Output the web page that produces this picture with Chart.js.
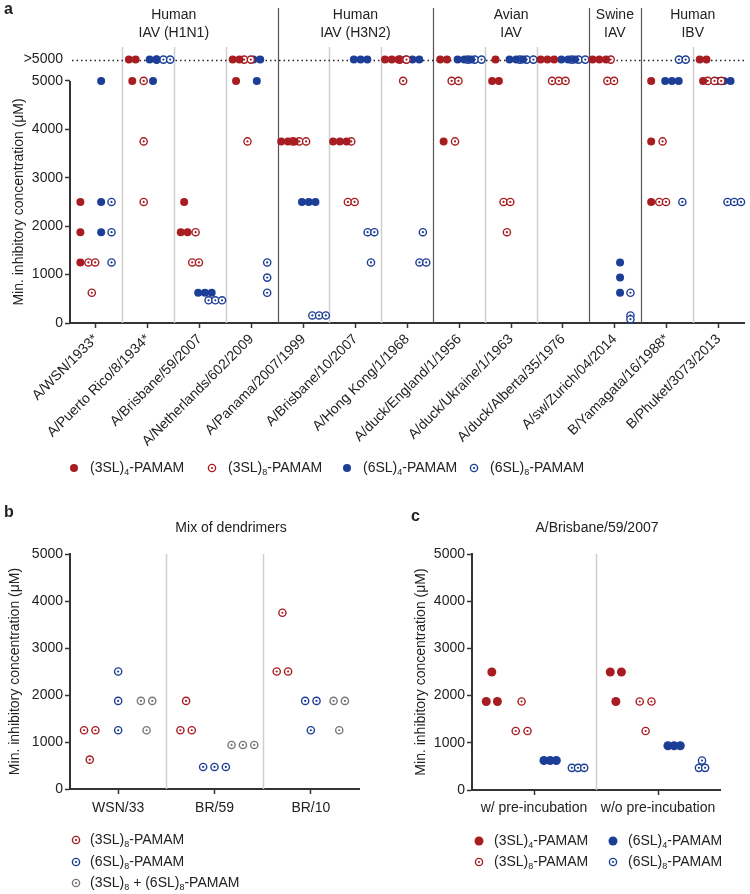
<!DOCTYPE html>
<html>
<head>
<meta charset="utf-8">
<script src="https://cdn.jsdelivr.net/npm/chart.js@4.4.1/dist/chart.umd.min.js"></script>
<style>
body { margin: 0; background: #fff; }
#wrap { position: relative; width: 750px; height: 894px; overflow: hidden; }
canvas { position: absolute; }
</style>
</head>
<body>
<div id="wrap">
  <canvas id="chartA" width="750" height="500" style="left:0;top:0"></canvas>
  <canvas id="chartB" width="375" height="394" style="left:0;top:500px"></canvas>
  <canvas id="chartC" width="375" height="394" style="left:375px;top:500px"></canvas>
</div>
<script>
// ---- data ----
var GT = '>5000';
var strains = ['A/WSN/1933*', 'A/Puerto Rico/8/1934*', 'A/Brisbane/59/2007', 'A/Netherlands/602/2009',
  'A/Panama/2007/1999', 'A/Brisbane/10/2007', 'A/Hong Kong/1/1968', 'A/duck/England/1/1956',
  'A/duck/Ukraine/1/1963', 'A/duck/Alberta/35/1976', 'A/sw/Zurich/04/2014', 'B/Yamagata/16/1988*',
  'B/Phuket/3073/2013'];
var groupNames = [['Human', 'IAV (H1N1)'], ['Human', 'IAV (H3N2)'], ['Avian', 'IAV'], ['Swine', 'IAV'], ['Human', 'IBV']];
var groupSizes = [4, 3, 3, 1, 2];
var yTicks = [0, 1000, 2000, 3000, 4000, 5000];

// panel a, three replicates per strain
var sl3x4 = [[2500, 1875, 1250], [GT, GT, 5000], [2500, 1875, 1875], [GT, GT, 5000], [3750, 3750, 3750],
  [3750, 3750, 3750], [GT, GT, GT], [GT, GT, 3750], [GT, 5000, 5000], [GT, GT, GT], [GT, GT, GT],
  [5000, 3750, 2500], [GT, GT, 5000]];
var sl3x8 = [[1250, 1250, 625], [5000, 3750, 2500], [1875, 1250, 1250], [GT, GT, 3750], [3750, 3750, 3750],
  [3750, 2500, 2500], [GT, GT, 5000], [5000, 5000, 3750], [2500, 2500, 1875], [5000, 5000, 5000],
  [GT, 5000, 5000], [3750, 2500, 2500], [5000, 5000, 5000]];
var sl6x4 = [[5000, 2500, 1875], [GT, GT, 5000], [625, 625, 625], [GT, GT, 5000], [2500, 2500, 2500],
  [GT, GT, GT], [GT, GT, GT], [GT, GT, GT], [GT, GT, GT], [GT, GT, GT], [1250, 937.5, 625],
  [5000, 5000, 5000], [5000, 5000, 5000]];
var sl6x8 = [[2500, 1875, 1250], [GT, GT, GT], [469, 469, 469], [1250, 937.5, 625], [156, 156, 156],
  [1875, 1875, 1250], [1875, 1250, 1250], [GT, GT, GT], [GT, GT, GT], [GT, GT, GT], [625, 156, 78],
  [GT, GT, 2500], [2500, 2500, 2500]];

// panel b
var mixViruses = ['WSN/33', 'BR/59', 'BR/10'];
var mix3SL8 = [[1250, 1250, 625], [1875, 1250, 1250], [3750, 2500, 2500]];
var mix6SL8 = [[2500, 1875, 1250], [469, 469, 469], [1875, 1875, 1250]];
var mixBoth = [[1875, 1875, 1250], [937.5, 937.5, 937.5], [1875, 1875, 1250]];

// panel c
var preConditions = ['w/ pre-incubation', 'w/o pre-incubation'];
var pre3SL4 = [[2500, 1875, 1875], [2500, 2500, 1875]];
var pre3SL8 = [[1875, 1250, 1250], [1875, 1875, 1250]];
var pre6SL4 = [[625, 625, 625], [937.5, 937.5, 937.5]];
var pre6SL8 = [[469, 469, 469], [625, 469, 469]];

// legend names, odd parts are subscripts
var seriesNames = [['(3SL)', '4', '-PAMAM'], ['(3SL)', '8', '-PAMAM'], ['(6SL)', '4', '-PAMAM'], ['(6SL)', '8', '-PAMAM']];
var mixNames = [['(3SL)', '8', '-PAMAM'], ['(6SL)', '8', '-PAMAM'], ['(3SL)', '8', ' + (6SL)', '8', '-PAMAM']];

// ---- style ----
var FONT = '"Liberation Sans", Arial, Helvetica, sans-serif';
var RED = '#a71d21', BLUE = '#1c3e96', GREY = '#777777';
var OVER = 5440; // where the ">5000" row sits on the y scale

Chart.defaults.font.family = FONT;
Chart.defaults.font.size = 14;
Chart.defaults.color = '#222';

// same values in one column are put side by side
function swarm(rows, offset, step) {
  var pts = [];
  rows.forEach(function (vals, i) {
    var seen = [], counts = [];
    vals.forEach(function (v) {
      var k = seen.indexOf(v);
      if (k < 0) { seen.push(v); counts.push(1); } else counts[k]++;
    });
    seen.forEach(function (v, k) {
      var n = counts[k];
      for (var j = 0; j < n; j++) {
        pts.push({ x: i + offset + (j - (n - 1) / 2) * step, y: v === GT ? OVER : v });
      }
    });
  });
  return pts;
}

// solid dot -> one dataset, ring with centre dot -> two datasets.
// chart.js paints the first dataset last, so the centre dots go first
function series(name, rows, offset, step, color, ring, radius) {
  if (!ring) {
    return [{ label: name.join(''), data: swarm(rows, offset, step), pointStyle: 'circle', showLine: false,
      clip: false, pointRadius: radius || 4, backgroundColor: color, borderWidth: 0 }];
  }
  return [
    { label: name.join('') + ' centre', data: swarm(rows, offset, step), pointStyle: 'circle',
      showLine: false, clip: false, pointRadius: 1.1, backgroundColor: color, borderWidth: 0 },
    { label: name.join(''), data: swarm(rows, offset, step), pointStyle: 'circle', showLine: false,
      clip: false, pointRadius: 3.6, backgroundColor: '#fff', borderColor: color, borderWidth: 1.4 }
  ];
}

function catAxis(labels, rotation, height, pad) {
  return {
    type: 'linear', min: -0.5, max: labels.length - 0.5,
    afterBuildTicks: function (s) { s.ticks = labels.map(function (_, i) { return { value: i }; }); },
    afterFit: function (s) { s.height = height; },
    ticks: { autoSkip: false, minRotation: rotation, maxRotation: rotation, padding: pad, color: '#222',
      callback: function (v) { return labels[v]; } },
    grid: { drawOnChartArea: false, tickLength: 5, tickWidth: 1.5, tickColor: '#333' },
    border: { display: true, color: '#333', width: 2 }
  };
}

function valueAxis(max, width, list, showBorder) {
  return {
    type: 'linear', min: 0, max: max,
    afterBuildTicks: function (s) { s.ticks = list.map(function (v) { return { value: v }; }); },
    afterFit: function (s) { s.width = width; },
    ticks: { padding: 2, color: '#222',
      callback: function (v) { return v === OVER ? '>5000' : String(v); } },
    grid: { drawOnChartArea: false, tickLength: 5, tickWidth: 1.5,
      tickColor: function (ctx) { return ctx.tick && ctx.tick.value === OVER ? 'rgba(0,0,0,0)' : '#333'; } },
    border: { display: showBorder, color: '#333', width: 2 }
  };
}

function drawLabel(c, parts, x, y) {
  c.textAlign = 'left';
  c.textBaseline = 'middle';
  c.fillStyle = '#222';
  for (var i = 0; i < parts.length; i++) {
    var sub = i % 2 === 1;
    c.font = (sub ? '9px ' : '14px ') + FONT;
    c.fillText(parts[i], x, sub ? y + 5 : y);
    x += c.measureText(parts[i]).width;
  }
}

function drawMarker(c, color, ring, x, y, r) {
  if (ring) {
    c.fillStyle = '#fff'; c.strokeStyle = color; c.lineWidth = 1.4;
    c.beginPath(); c.arc(x, y, 3.6, 0, 2 * Math.PI); c.fill(); c.stroke();
    c.fillStyle = color;
    c.beginPath(); c.arc(x, y, 1.1, 0, 2 * Math.PI); c.fill();
  } else {
    c.fillStyle = color;
    c.beginPath(); c.arc(x, y, r || 4, 0, 2 * Math.PI); c.fill();
  }
}

function drawYTitle(c, x, y) {
  c.save();
  c.translate(x, y);
  c.rotate(-Math.PI / 2);
  c.font = '14px ' + FONT;
  c.fillStyle = '#222';
  c.textAlign = 'center';
  c.textBaseline = 'middle';
  c.fillText('Min. inhibitory concentration (\u03bcM)', 0, 0);
  c.restore();
}

function drawText(c, text, x, y, font, align) {
  c.font = font;
  c.fillStyle = '#222';
  c.textAlign = align || 'center';
  c.textBaseline = 'middle';
  c.fillText(text, x, y);
}

function separators(chart, n, isDark) {
  var c = chart.ctx, a = chart.chartArea, xs = chart.scales.x;
  for (var i = 0; i < n - 1; i++) {
    var px = Math.round(xs.getPixelForValue(i + 0.5)) + 0.5;
    var dark = isDark && isDark(i + 1);
    c.strokeStyle = dark ? '#555' : '#cfcfcf';
    c.lineWidth = dark ? 1.2 : 1.5;
    c.beginPath(); c.moveTo(px, dark ? 8 : a.top); c.lineTo(px, a.bottom); c.stroke();
  }
}

var baseOptions = function (padding, xAxis, yAxis) {
  return {
    responsive: false,
    animation: false,
    devicePixelRatio: 1,
    layout: { padding: padding },
    plugins: { legend: { display: false }, tooltip: { enabled: false } },
    scales: { x: xAxis, y: yAxis }
  };
};

// ---- panel a ----
var bounds = [];
groupSizes.reduce(function (s, n) { bounds.push(s + n); return s + n; }, 0);

var frameA = {
  id: 'frameA',
  beforeDatasetsDraw: function (chart) {
    var c = chart.ctx, a = chart.chartArea, xs = chart.scales.x, ys = chart.scales.y;
    c.save();
    separators(chart, strains.length, function (b) { return bounds.indexOf(b) >= 0; });
    var py = Math.round(ys.getPixelForValue(OVER)) + 0.5;
    c.setLineDash([1.5, 3]);
    c.strokeStyle = '#222'; c.lineWidth = 1.5;
    c.beginPath(); c.moveTo(a.left + 2, py); c.lineTo(a.right, py); c.stroke();
    c.setLineDash([]);
    c.strokeStyle = '#333'; c.lineWidth = 2;
    c.beginPath(); c.moveTo(a.left, ys.getPixelForValue(0) + 1); c.lineTo(a.left, ys.getPixelForValue(5000)); c.stroke();
    var start = 0;
    groupSizes.forEach(function (n, g) {
      var cx = xs.getPixelForValue((2 * start + n - 1) / 2);
      drawText(c, groupNames[g][0], cx, 15, '14px ' + FONT);
      drawText(c, groupNames[g][1], cx, 33, '14px ' + FONT);
      start += n;
    });
    drawText(c, 'a', 4, 10, 'bold 16px ' + FONT, 'left');
    drawYTitle(c, 19, (ys.getPixelForValue(0) + ys.getPixelForValue(5000)) / 2);
    var lx = [74, 212, 347, 474];
    var legendStyle = [[RED, false], [RED, true], [BLUE, false], [BLUE, true]];
    lx.forEach(function (x, k) {
      drawMarker(c, legendStyle[k][0], legendStyle[k][1], x, 468);
      drawLabel(c, seriesNames[k], x + 16, 468);
    });
    c.restore();
  }
};

var offA = [-0.3, -0.08, 0.1, 0.3];
new Chart(document.getElementById('chartA'), {
  type: 'scatter',
  data: {
    datasets: [].concat(
      series(seriesNames[0], sl3x4, offA[0], 0.13, RED, false),
      series(seriesNames[1], sl3x8, offA[1], 0.13, RED, true),
      series(seriesNames[2], sl6x4, offA[2], 0.13, BLUE, false),
      series(seriesNames[3], sl6x8, offA[3], 0.13, BLUE, true)
    )
  },
  options: baseOptions({ top: 47, right: 1, left: 0, bottom: 0 },
    catAxis(strains, 45, 177, 3),
    valueAxis(5700, 70, yTicks.concat([OVER]), false)),
  plugins: [frameA]
});

// ---- panel b ----
var frameB = {
  id: 'frameB',
  beforeDatasetsDraw: function (chart) {
    var c = chart.ctx, ys = chart.scales.y;
    c.save();
    separators(chart, mixViruses.length, null);
    drawText(c, 'b', 4, 13, 'bold 16px ' + FONT, 'left');
    drawText(c, 'Mix of dendrimers', 231, 28, '14px ' + FONT);
    drawYTitle(c, 15, (ys.getPixelForValue(0) + ys.getPixelForValue(5000)) / 2);
    var st = [RED, BLUE, GREY];
    [340, 362, 383].forEach(function (y, k) {
      drawMarker(c, st[k], true, 76, y);
      drawLabel(c, mixNames[k], 90, y);
    });
    c.restore();
  }
};

var offB = [-0.295, 0, 0.295];
new Chart(document.getElementById('chartB'), {
  type: 'scatter',
  data: {
    datasets: [].concat(
      series(mixNames[0], mix3SL8, offB[0], 0.118, RED, true),
      series(mixNames[1], mix6SL8, offB[1], 0.118, BLUE, true),
      series(mixNames[2], mixBoth, offB[2], 0.118, GREY, true)
    )
  },
  options: baseOptions({ top: 54, right: 16, left: 0, bottom: 0 },
    catAxis(mixViruses, 0, 105, 6),
    valueAxis(5000, 70, yTicks, true)),
  plugins: [frameB]
});

// ---- panel c ----
var frameC = {
  id: 'frameC',
  beforeDatasetsDraw: function (chart) {
    var c = chart.ctx, ys = chart.scales.y;
    c.save();
    separators(chart, preConditions.length, null);
    drawText(c, 'c', 36, 17, 'bold 16px ' + FONT, 'left');
    drawText(c, 'A/Brisbane/59/2007', 222, 28, '14px ' + FONT);
    drawYTitle(c, 46, (ys.getPixelForValue(0) + ys.getPixelForValue(5000)) / 2);
    var cells = [[104, 341, RED, false, 0], [238, 341, BLUE, false, 2], [104, 362, RED, true, 1], [238, 362, BLUE, true, 3]];
    cells.forEach(function (e) {
      drawMarker(c, e[2], e[3], e[0], e[1], 4.5);
      drawLabel(c, seriesNames[e[4]], e[0] + 15, e[1]);
    });
    c.restore();
  }
};

var offC = [-0.34, -0.1, 0.13, 0.355];
new Chart(document.getElementById('chartC'), {
  type: 'scatter',
  data: {
    datasets: [].concat(
      series(seriesNames[0], pre3SL4, offC[0], 0.09, RED, false, 4.5),
      series(seriesNames[1], pre3SL8, offC[1], 0.095, RED, true),
      series(seriesNames[2], pre6SL4, offC[2], 0.05, BLUE, false, 4.5),
      series(seriesNames[3], pre6SL8, offC[3], 0.05, BLUE, true)
    )
  },
  options: baseOptions({ top: 54, right: 30, left: 0, bottom: 0 },
    catAxis(preConditions, 0, 104, 5),
    valueAxis(5000, 97, yTicks, true)),
  plugins: [frameC]
});
</script>
</body>
</html>
